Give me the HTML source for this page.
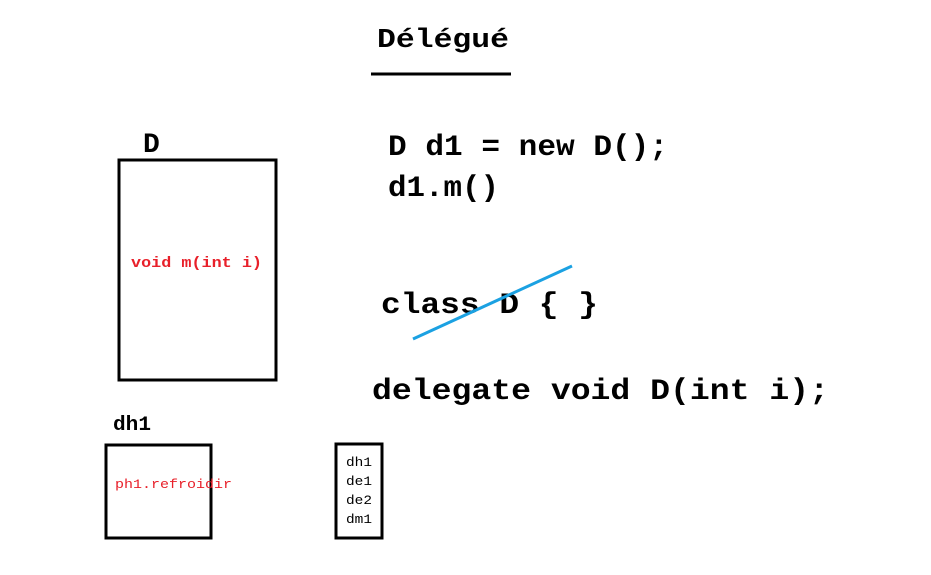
<!DOCTYPE html>
<html><head><meta charset="utf-8"><style>
html,body{margin:0;padding:0;background:#fff;width:931px;height:575px;overflow:hidden}
svg text{font-family:"Liberation Mono",monospace}
</style></head><body>
<svg width="931" height="575" xmlns="http://www.w3.org/2000/svg">
<text x="377" y="47" font-size="27" font-weight="bold" textLength="132" lengthAdjust="spacingAndGlyphs">Délégué</text>
<line x1="371" y1="74" x2="511" y2="74" stroke="#000" stroke-width="3"/>
<text x="143" y="152" font-size="28" font-weight="bold">D</text>
<rect x="119" y="160" width="157" height="220" fill="none" stroke="#000" stroke-width="3"/>
<text x="131" y="267" font-size="15" font-weight="bold" fill="#e8202a" textLength="131" lengthAdjust="spacingAndGlyphs">void m(int i)</text>
<text x="388" y="155" font-size="30" font-weight="bold" textLength="280" lengthAdjust="spacingAndGlyphs">D d1 = new D();</text>
<text x="388" y="196" font-size="30" font-weight="bold" textLength="111" lengthAdjust="spacingAndGlyphs">d1.m()</text>
<text x="381" y="313" font-size="30" font-weight="bold" textLength="217" lengthAdjust="spacingAndGlyphs">class D { }</text>
<line x1="413" y1="339" x2="572" y2="266" stroke="#1ba1e2" stroke-width="3"/>
<text x="372" y="399" font-size="30" font-weight="bold" textLength="457" lengthAdjust="spacingAndGlyphs">delegate void D(int i);</text>
<text x="113" y="430" font-size="20" font-weight="bold" textLength="38" lengthAdjust="spacingAndGlyphs">dh1</text>
<rect x="106" y="445" width="105" height="93" fill="none" stroke="#000" stroke-width="3"/>
<text x="115" y="488" font-size="13" fill="#e8202a" textLength="117" lengthAdjust="spacingAndGlyphs">ph1.refroidir</text>
<rect x="336" y="444" width="46" height="94" fill="none" stroke="#000" stroke-width="3"/>
<text x="346" y="466" font-size="13" textLength="26" lengthAdjust="spacingAndGlyphs">dh1</text>
<text x="346" y="485" font-size="13" textLength="26" lengthAdjust="spacingAndGlyphs">de1</text>
<text x="346" y="504" font-size="13" textLength="26" lengthAdjust="spacingAndGlyphs">de2</text>
<text x="346" y="523" font-size="13" textLength="26" lengthAdjust="spacingAndGlyphs">dm1</text>
</svg>
</body></html>
